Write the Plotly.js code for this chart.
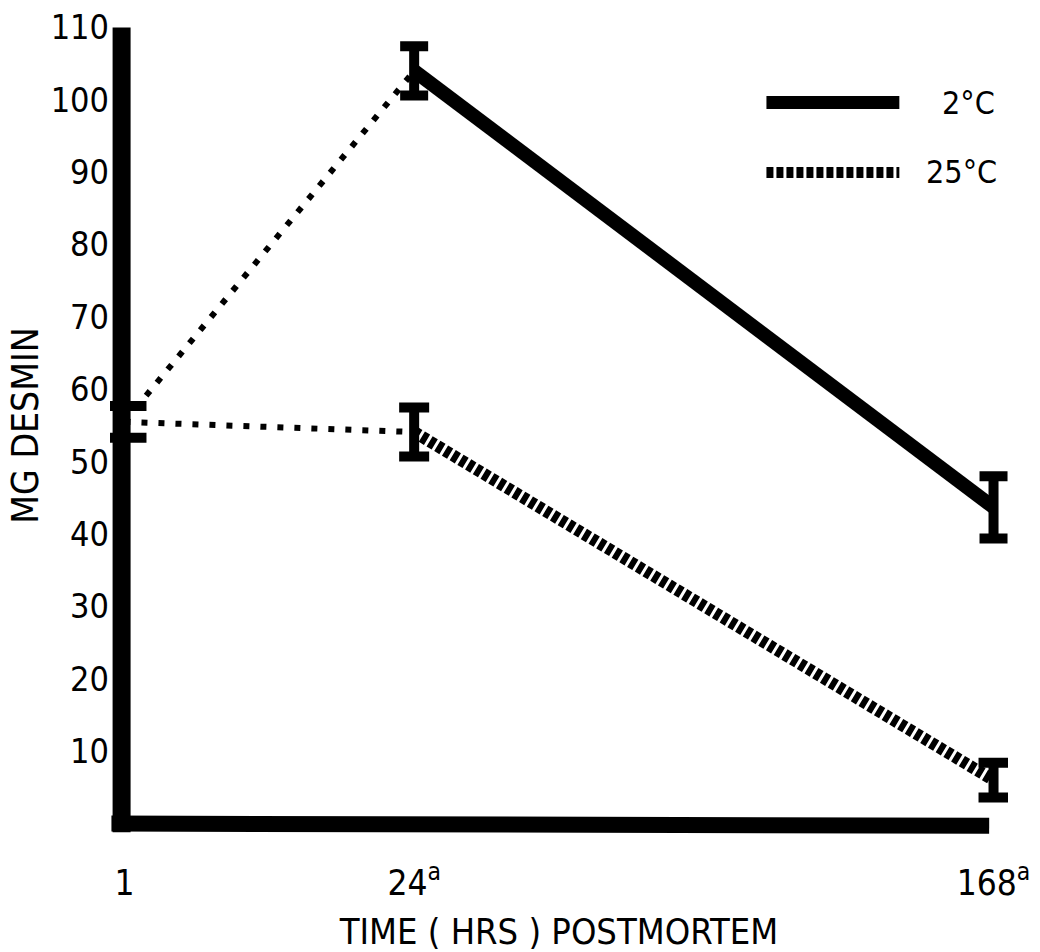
<!DOCTYPE html>
<html>
<head>
<meta charset="utf-8">
<script src="https://cdn.plot.ly/plotly-3.0.1.min.js"></script>
<style>html,body{margin:0;padding:0;background:#fff;}#chart{width:1040px;height:952px;}</style>
</head>
<body>
<div id="chart"></div>
<script>
// Category positions on the x axis (as spaced in the original figure) and their labels
var xPos = [0, 1, 3];
var hourLabels = ['1', '24<sup>a</sup>', '168<sup>a</sup>'];
// Mean mg desmin and error (half range) per storage temperature
var temp2C = [55.5, 104.0, 43.7];
var err2C = [2.2, 3.4, 4.3];
var temp25C = [55.5, 54.1, 6.0];
var err25C = [2.2, 3.4, 2.4];
var yTicks = [10, 20, 30, 40, 50, 60, 70, 80, 90, 100, 110];
var seriesNames = ['2°C', '25°C'];

var FONT = '"DejaVu Sans Condensed", "Liberation Sans Narrow", "DejaVu Sans", sans-serif';
var thinDot = {color: 'black', width: 6, dash: '6px,11px'};

var traces = [
  // 1 -> 24 h segments (thin dotted)
  {x: xPos.slice(0, 2), y: temp2C.slice(0, 2), mode: 'lines', line: thinDot, showlegend: false, hoverinfo: 'skip'},
  {x: xPos.slice(0, 2), y: temp25C.slice(0, 2), mode: 'lines', line: thinDot, showlegend: false, hoverinfo: 'skip'},
  // 24 -> 168 h segments
  {x: xPos.slice(1), y: temp2C.slice(1), mode: 'lines', name: seriesNames[0],
   line: {color: 'black', width: 14}, showlegend: false},
  {x: xPos.slice(1), y: temp25C.slice(1), mode: 'lines', name: seriesNames[1],
   line: {color: 'black', width: 12, dash: '6px,3px'}, showlegend: false},
  // error bars at 1 h (wide caps)
  {x: xPos.slice(0, 1), y: temp2C.slice(0, 1), mode: 'markers', marker: {size: 1, color: 'rgba(0,0,0,0)'},
   error_y: {type: 'data', array: err2C.slice(0, 1), color: 'black', thickness: 10, width: 22}, showlegend: false},
  // error bars at 24 and 168 h
  {x: xPos.slice(1), y: temp2C.slice(1), mode: 'markers', marker: {size: 1, color: 'rgba(0,0,0,0)'},
   error_y: {type: 'data', array: err2C.slice(1), color: 'black', thickness: 10, width: 14}, showlegend: false},
  {x: xPos.slice(1), y: temp25C.slice(1), mode: 'markers', marker: {size: 1, color: 'rgba(0,0,0,0)'},
   error_y: {type: 'data', array: err25C.slice(1), color: 'black', thickness: 10, width: 15}, showlegend: false}
];

var layout = {
  width: 1040, height: 952,
  margin: {l: 110, r: 32, t: 13, b: 114},
  paper_bgcolor: 'white', plot_bgcolor: 'white',
  font: {family: FONT, color: 'black', size: 34},
  showlegend: false,
  xaxis: {
    range: [-0.05, 3.05], showgrid: false, zeroline: false, showline: false,
    tickvals: xPos, ticktext: hourLabels,
    ticks: 'outside', ticklen: 14, tickcolor: 'rgba(0,0,0,0)',
    tickfont: {family: FONT, size: 35, color: 'black'},
    title: {text: 'TIME ( HRS ) POSTMORTEM', font: {family: FONT, size: 36, color: 'black'}, standoff: 16}
  },
  yaxis: {
    range: [-2, 112], showgrid: false, zeroline: false, showline: false,
    tickvals: yTicks, ticktext: yTicks.map(String),
    ticks: '',
    tickfont: {family: FONT, size: 34, color: 'black'},
    title: {text: 'MG DESMIN', font: {family: FONT, size: 37, color: 'black'}, standoff: 0}
  },
  shapes: [
    // heavy axis bars
    {type: 'line', xref: 'x', yref: 'y', x0: -0.01, x1: -0.01, y0: -1.2, y1: 110, line: {color: 'black', width: 18}},
    {type: 'line', xref: 'x', yref: 'y', x0: -0.045, x1: 2.985, y0: 0, y1: -0.3, line: {color: 'black', width: 16}},
    // legend samples
    {type: 'line', xref: 'paper', yref: 'paper', x0: 0.731, x1: 0.879, y0: 0.8915, y1: 0.8915, line: {color: 'black', width: 13}},
    {type: 'line', xref: 'paper', yref: 'paper', x0: 0.731, x1: 0.879, y0: 0.8067, y1: 0.8067, line: {color: 'black', width: 11, dash: '7px,3px'}}
  ],
  annotations: [
    {xref: 'paper', yref: 'paper', x: 0.924, y: 0.8915, xanchor: 'left', yanchor: 'middle', showarrow: false,
     text: seriesNames[0], font: {family: FONT, size: 32, color: 'black'}},
    {xref: 'paper', yref: 'paper', x: 0.907, y: 0.8067, xanchor: 'left', yanchor: 'middle', showarrow: false,
     text: seriesNames[1], font: {family: FONT, size: 32, color: 'black'}}
  ]
};

Plotly.newPlot('chart', traces, layout, {displayModeBar: false, staticPlot: true});
</script>
</body>
</html>
